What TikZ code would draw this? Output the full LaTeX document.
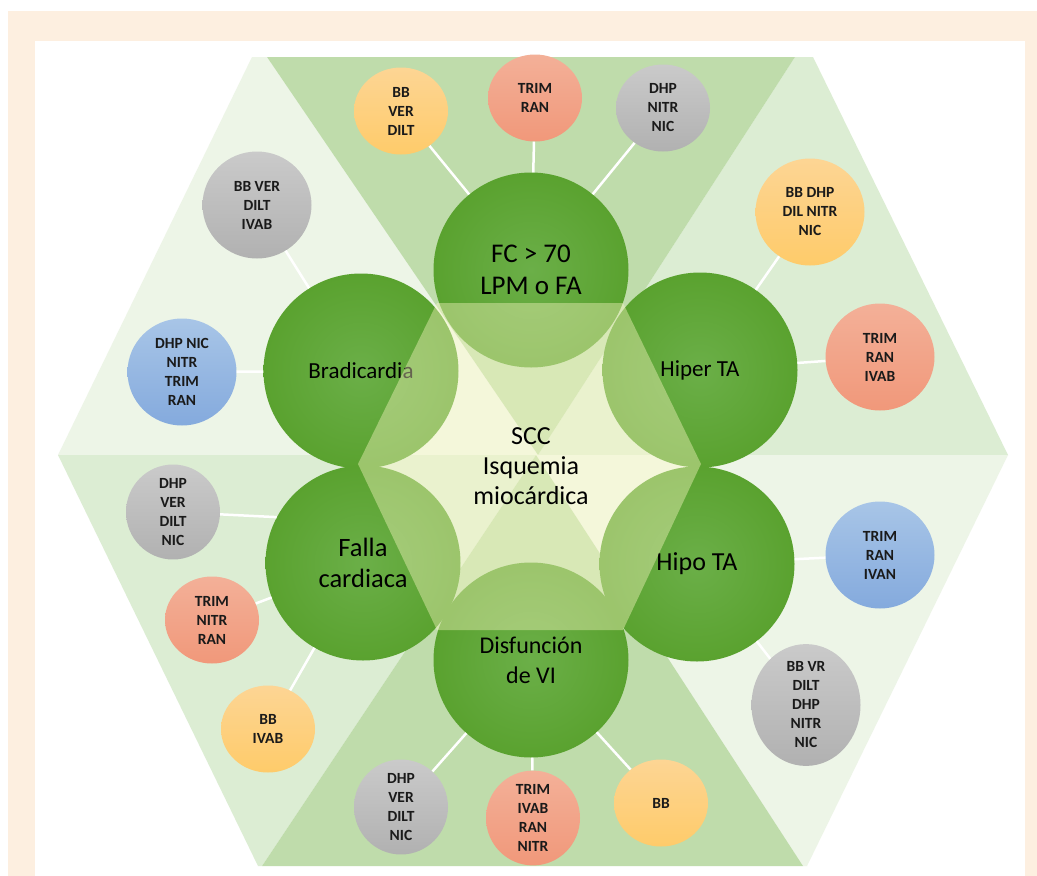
\documentclass[tikz,border=0pt]{standalone}
\usepackage{fontspec}
\setmainfont{Carlito}
\usetikzlibrary{shapes.geometric}
\definecolor{beige}{HTML}{FDEFE0}
\definecolor{dkG}{HTML}{BFDCAB}
\definecolor{mdG}{HTML}{DCEDD3}
\definecolor{ltG}{HTML}{EDF5E7}
\definecolor{grIn}{HTML}{6BAF48}
\definecolor{grOut}{HTML}{5AA22F}
\definecolor{cream}{RGB}{255,250,200}
\definecolor{yT}{HTML}{FDD594}
\definecolor{yB}{HTML}{FECB6A}
\definecolor{rT}{HTML}{F3B098}
\definecolor{rB}{HTML}{F1987A}
\definecolor{gT}{HTML}{CACACA}
\definecolor{gB}{HTML}{B1B1B1}
\definecolor{bT}{HTML}{A8C5E7}
\definecolor{bB}{HTML}{84AADD}
\definecolor{txt}{HTML}{1A1A1A}
\tikzset{
  bigc/.style={circle, minimum size=195pt, inner sep=0pt, shading=radial,
    inner color=grIn, outer color=grOut, align=center, text=black},
  sat/.style={ellipse, inner sep=0pt, align=center, text=txt,
    font=\bfseries\fontsize{15.5}{19}\selectfont},
  smallsat/.style={sat, minimum width=94pt, minimum height=87pt},
  largesat/.style={sat, minimum width=109pt, minimum height=107pt},
  yel/.style={top color=yT, bottom color=yB},
  red/.style={top color=rT, bottom color=rB},
  gry/.style={top color=gT, bottom color=gB},
  blu/.style={top color=bT, bottom color=bB},
  conn/.style={draw=white, line width=2.5pt}
}
\begin{document}
\begin{tikzpicture}[x=1pt,y=-1pt]
\useasboundingbox (0,0) rectangle (1037,876);
\fill[white] (0,0) rectangle (1037,876);
\fill[beige] (8,11) rectangle (1037,876);
\fill[white] (35,41) rectangle (1025,876);
% hexagon triangles
\fill[ltG] (252,57) -- (267,57) -- (538,455) -- (58,455) -- cycle;
\fill[mdG] (795,57) -- (813,57) -- (1008,455) -- (538,455) -- cycle;
\fill[mdG] (58,455) -- (536,455) -- (262,866) -- (258,866) -- cycle;
\fill[ltG] (536,455) -- (1008,455) -- (807,866) -- (803,866) -- cycle;
\fill[dkG] (267,57) -- (795,57) -- (538,455) -- cycle;
\fill[dkG] (536,455) -- (262,866) -- (803,866) -- cycle;
% big circles
\node[bigc, font=\fontsize{23}{28}\selectfont] (brad) at (361,371) {Bradicardia};
\node[bigc, font=\fontsize{27}{32}\selectfont] (fc) at (531,270) {FC > 70\\LPM o FA};
\node[bigc, font=\fontsize{23}{28}\selectfont] (hiper) at (700,370) {Hiper TA};
\node[bigc, font=\fontsize{26.5}{31}\selectfont] (falla) at (363,563) {Falla\\cardiaca};
\node[bigc, font=\fontsize{26}{31}\selectfont] (hipo) at (697,564) {Hipo TA};
\node[bigc, font=\fontsize{24}{30}\selectfont] (disf) at (531,660) {Disfunción\\de VI};
% central overlay
\fill[cream, fill opacity=0.4] (437,303) -- (623,303) -- (701,464) -- (623,630) -- (437,630) -- (358,464) -- cycle;
\node[font=\fontsize{26}{30}\selectfont, align=center, text=black] (scc) at (531,466) {SCC\\Isquemia\\miocárdica};
% satellites
\node[smallsat, yel] (s1) at (401,111) {BB\\VER\\DILT};
\node[smallsat, red] (s2) at (535,98) {TRIM\\RAN};
\node[smallsat, gry] (s3) at (663,108) {DHP\\NITR\\NIC};
\node[largesat, gry] (s4) at (257,205) {BB VER\\DILT\\IVAB};
\node[largesat, blu] (s5) at (182,372) {DHP NIC\\NITR\\TRIM\\RAN};
\node[largesat, yel] (s6) at (810,212) {BB DHP\\DIL NITR\\NIC};
\node[largesat, red] (s7) at (880,357) {TRIM\\RAN\\IVAB};
\node[smallsat, gry] (s8) at (173,512) {DHP\\VER\\DILT\\NIC};
\node[smallsat, red] (s9) at (212,620) {TRIM\\NITR\\RAN};
\node[smallsat, yel] (s10) at (268,729) {BB\\IVAB};
\node[smallsat, gry] (s11) at (401,807) {DHP\\VER\\DILT\\NIC};
\node[smallsat, red] (s12) at (533,818) {TRIM\\IVAB\\RAN\\NITR};
\node[smallsat, yel] (s13) at (661,803) {BB};
\node[largesat, blu] (s14) at (880,555) {TRIM\\RAN\\IVAN};
\node[largesat, gry] (s15) at (806,705) {BB VR\\DILT\\DHP\\NITR\\NIC};
% connectors
\draw[conn] (s1) -- (fc);
\draw[conn] (s2) -- (fc);
\draw[conn] (s3) -- (fc);
\draw[conn] (s4) -- (brad);
\draw[conn] (s5) -- (brad);
\draw[conn] (s6) -- (hiper);
\draw[conn] (s7) -- (hiper);
\draw[conn] (s8) -- (falla.152);
\draw[conn] (s9) -- (falla);
\draw[conn] (s10) -- (falla);
\draw[conn] (s11) -- (disf);
\draw[conn] (s12) -- (disf);
\draw[conn] (s13) -- (disf);
\draw[conn] (s14) -- (hipo);
\draw[conn] (s15) -- (hipo);
\end{tikzpicture}
\end{document}
